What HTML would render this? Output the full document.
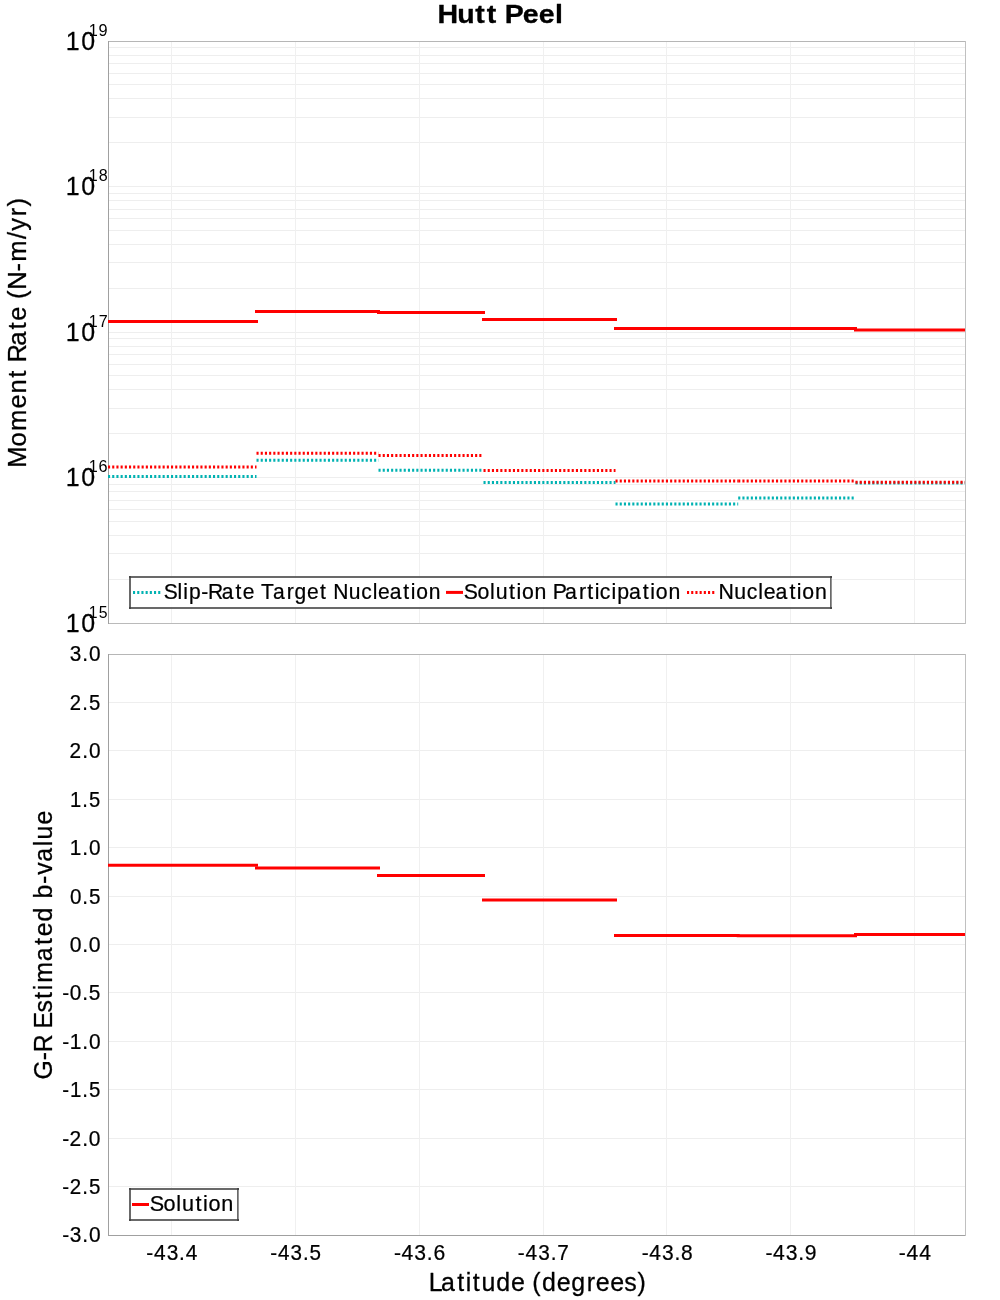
<!DOCTYPE html>
<html><head><meta charset="utf-8"><title>Hutt Peel</title>
<style>
html,body{margin:0;padding:0;background:#fff;}
body{width:1000px;height:1300px;overflow:hidden;font-family:"Liberation Sans", sans-serif;}
svg{display:block;will-change:transform;}
text{font-family:"Liberation Sans", sans-serif;}
</style></head><body>
<svg width="1000" height="1300" viewBox="0 0 1000 1300">
<rect x="0" y="0" width="1000" height="1300" fill="#fff"/>
<g shape-rendering="crispEdges">
<rect x="109" y="579" width="856" height="1" fill="#eeeeee"/>
<rect x="109" y="553" width="856" height="1" fill="#eeeeee"/>
<rect x="109" y="535" width="856" height="1" fill="#eeeeee"/>
<rect x="109" y="521" width="856" height="1" fill="#eeeeee"/>
<rect x="109" y="509" width="856" height="1" fill="#eeeeee"/>
<rect x="109" y="500" width="856" height="1" fill="#eeeeee"/>
<rect x="109" y="491" width="856" height="1" fill="#eeeeee"/>
<rect x="109" y="484" width="856" height="1" fill="#eeeeee"/>
<rect x="109" y="477" width="856" height="1" fill="#eeeeee"/>
<rect x="109" y="433" width="856" height="1" fill="#eeeeee"/>
<rect x="109" y="408" width="856" height="1" fill="#eeeeee"/>
<rect x="109" y="389" width="856" height="1" fill="#eeeeee"/>
<rect x="109" y="375" width="856" height="1" fill="#eeeeee"/>
<rect x="109" y="364" width="856" height="1" fill="#eeeeee"/>
<rect x="109" y="354" width="856" height="1" fill="#eeeeee"/>
<rect x="109" y="346" width="856" height="1" fill="#eeeeee"/>
<rect x="109" y="338" width="856" height="1" fill="#eeeeee"/>
<rect x="109" y="332" width="856" height="1" fill="#eeeeee"/>
<rect x="109" y="288" width="856" height="1" fill="#eeeeee"/>
<rect x="109" y="262" width="856" height="1" fill="#eeeeee"/>
<rect x="109" y="244" width="856" height="1" fill="#eeeeee"/>
<rect x="109" y="230" width="856" height="1" fill="#eeeeee"/>
<rect x="109" y="218" width="856" height="1" fill="#eeeeee"/>
<rect x="109" y="209" width="856" height="1" fill="#eeeeee"/>
<rect x="109" y="200" width="856" height="1" fill="#eeeeee"/>
<rect x="109" y="193" width="856" height="1" fill="#eeeeee"/>
<rect x="109" y="186" width="856" height="1" fill="#eeeeee"/>
<rect x="109" y="142" width="856" height="1" fill="#eeeeee"/>
<rect x="109" y="117" width="856" height="1" fill="#eeeeee"/>
<rect x="109" y="98" width="856" height="1" fill="#eeeeee"/>
<rect x="109" y="84" width="856" height="1" fill="#eeeeee"/>
<rect x="109" y="73" width="856" height="1" fill="#eeeeee"/>
<rect x="109" y="63" width="856" height="1" fill="#eeeeee"/>
<rect x="109" y="55" width="856" height="1" fill="#eeeeee"/>
<rect x="109" y="47" width="856" height="1" fill="#eeeeee"/>
<rect x="171" y="42" width="1" height="581" fill="#f0f0f0"/>
<rect x="295" y="42" width="1" height="581" fill="#f0f0f0"/>
<rect x="419" y="42" width="1" height="581" fill="#f0f0f0"/>
<rect x="543" y="42" width="1" height="581" fill="#f0f0f0"/>
<rect x="666" y="42" width="1" height="581" fill="#f0f0f0"/>
<rect x="790" y="42" width="1" height="581" fill="#f0f0f0"/>
<rect x="914" y="42" width="1" height="581" fill="#f0f0f0"/>
<rect x="109" y="702" width="856" height="1" fill="#eeeeee"/>
<rect x="109" y="750" width="856" height="1" fill="#eeeeee"/>
<rect x="109" y="799" width="856" height="1" fill="#eeeeee"/>
<rect x="109" y="847" width="856" height="1" fill="#eeeeee"/>
<rect x="109" y="896" width="856" height="1" fill="#eeeeee"/>
<rect x="109" y="944" width="856" height="1" fill="#eeeeee"/>
<rect x="109" y="992" width="856" height="1" fill="#eeeeee"/>
<rect x="109" y="1041" width="856" height="1" fill="#eeeeee"/>
<rect x="109" y="1089" width="856" height="1" fill="#eeeeee"/>
<rect x="109" y="1138" width="856" height="1" fill="#eeeeee"/>
<rect x="109" y="1186" width="856" height="1" fill="#eeeeee"/>
<rect x="171" y="655" width="1" height="580" fill="#f0f0f0"/>
<rect x="295" y="655" width="1" height="580" fill="#f0f0f0"/>
<rect x="419" y="655" width="1" height="580" fill="#f0f0f0"/>
<rect x="543" y="655" width="1" height="580" fill="#f0f0f0"/>
<rect x="666" y="655" width="1" height="580" fill="#f0f0f0"/>
<rect x="790" y="655" width="1" height="580" fill="#f0f0f0"/>
<rect x="914" y="655" width="1" height="580" fill="#f0f0f0"/>
</g>
<g shape-rendering="crispEdges">
<rect x="108" y="41" width="858" height="1" fill="#b6b6b6"/>
<rect x="108" y="623" width="858" height="1" fill="#bababa"/>
<rect x="108" y="41" width="1" height="583" fill="#a0a0a0"/>
<rect x="965" y="41" width="1" height="583" fill="#c0c0c0"/>
<rect x="108" y="654" width="858" height="1" fill="#b6b6b6"/>
<rect x="108" y="1235" width="858" height="1" fill="#a0a0a0"/>
<rect x="108" y="654" width="1" height="582" fill="#a0a0a0"/>
<rect x="965" y="654" width="1" height="582" fill="#c0c0c0"/>
</g>
<clipPath id="ct"><rect x="108" y="41" width="857" height="582"/></clipPath>
<clipPath id="cb"><rect x="108" y="654" width="857" height="581"/></clipPath>
<g clip-path="url(#ct)" fill="none" stroke-width="3">
<path d="M108 476.5H256.5" stroke="#00b2b2" stroke-dasharray="2.1 2.1"/>
<path d="M256.5 460.2H378.5" stroke="#00b2b2" stroke-dasharray="2.1 2.1"/>
<path d="M378.5 470.2H483.5" stroke="#00b2b2" stroke-dasharray="2.1 2.1"/>
<path d="M483.5 482.6H615.5" stroke="#00b2b2" stroke-dasharray="2.1 2.1"/>
<path d="M615.5 504H738.2" stroke="#00b2b2" stroke-dasharray="2.1 2.1"/>
<path d="M738.2 498H855.5" stroke="#00b2b2" stroke-dasharray="2.1 2.1"/>
<path d="M855.5 483H966" stroke="#00b2b2" stroke-dasharray="2.1 2.1"/>
<path d="M108 321.55H256.5" stroke="#ff0000" stroke-linecap="square"/>
<path d="M256.5 311.45H378.5" stroke="#ff0000" stroke-linecap="square"/>
<path d="M378.5 312.45H483.5" stroke="#ff0000" stroke-linecap="square"/>
<path d="M483.5 319.5H615.5" stroke="#ff0000" stroke-linecap="square"/>
<path d="M615.5 328.55H738.2" stroke="#ff0000" stroke-linecap="square"/>
<path d="M738.2 328.6H855.5" stroke="#ff0000" stroke-linecap="square"/>
<path d="M855.5 330H966" stroke="#ff0000" stroke-linecap="square"/>
<path d="M108 467H256.5" stroke="#ff0000" stroke-dasharray="2.1 2.1"/>
<path d="M256.5 453.3H378.5" stroke="#ff0000" stroke-dasharray="2.1 2.1"/>
<path d="M378.5 455.6H483.5" stroke="#ff0000" stroke-dasharray="2.1 2.1"/>
<path d="M483.5 470.6H615.5" stroke="#ff0000" stroke-dasharray="2.1 2.1"/>
<path d="M615.5 480.9H738.2" stroke="#ff0000" stroke-dasharray="2.1 2.1"/>
<path d="M738.2 480.9H855.5" stroke="#ff0000" stroke-dasharray="2.1 2.1"/>
<path d="M855.5 482.2H966" stroke="#ff0000" stroke-dasharray="2.1 2.1"/>
</g>
<g clip-path="url(#cb)" fill="none" stroke-width="3">
<path d="M108 865.2H256.5" stroke="#ff0000" stroke-linecap="square"/>
<path d="M256.5 867.9H378.5" stroke="#ff0000" stroke-linecap="square"/>
<path d="M378.5 875.5H483.5" stroke="#ff0000" stroke-linecap="square"/>
<path d="M483.5 899.9H615.5" stroke="#ff0000" stroke-linecap="square"/>
<path d="M615.5 935.6H738.2" stroke="#ff0000" stroke-linecap="square"/>
<path d="M738.2 935.75H855.5" stroke="#ff0000" stroke-linecap="square"/>
<path d="M855.5 934.6H966" stroke="#ff0000" stroke-linecap="square"/>
</g>
<rect x="129" y="576" width="703" height="33" fill="#fff" fill-opacity="0.85"/>
<g shape-rendering="crispEdges">
<rect x="131" y="576" width="699" height="2" fill="#000" fill-opacity="0.59"/>
<rect x="131" y="607" width="699" height="2" fill="#000" fill-opacity="0.59"/>
<rect x="129" y="578" width="2" height="29" fill="#000" fill-opacity="0.59"/>
<rect x="830" y="578" width="1" height="29" fill="#000" fill-opacity="0.59"/>
<rect x="831" y="578" width="1" height="29" fill="#000" fill-opacity="0.42"/>
<rect x="129" y="576" width="2" height="2" fill="#000" fill-opacity="0.72"/>
<rect x="129" y="607" width="2" height="2" fill="#000" fill-opacity="0.72"/>
<rect x="830" y="576" width="2" height="2" fill="#000" fill-opacity="0.72"/>
<rect x="830" y="607" width="2" height="2" fill="#000" fill-opacity="0.72"/>
</g>
<path d="M133 592.4H161" stroke="#00b2b2" stroke-width="3" stroke-dasharray="2.1 2.1" fill="none"/>
<text transform="translate(0,598.700) scale(1.0531,1.0645)" x="155.61 168.66 173.96 179.40 191.05 197.49 210.63 223.65 230.55 236.55 247.75 259.24 272.26 279.56 291.63 303.94 309.94 316.47 331.27 342.94 353.85 359.04 370.02 383.04 390.05 395.17 407.10" font-size="20" fill="#000" stroke="#000" stroke-width="0.22" stroke-linejoin="round">Slip-Rate Target Nucleation</text>
<path d="M446 592.4H463" stroke="#ff0000" stroke-width="3" fill="none"/>
<text transform="translate(0,598.700) scale(1.0639,1.0645)" x="435.90 448.76 460.60 465.87 478.43 485.43 490.54 502.45 508.45 519.44 531.12 544.13 551.96 558.96 563.83 574.73 580.16 591.24 604.26 611.25 616.36 628.28" font-size="20" fill="#000" stroke="#000" stroke-width="0.22" stroke-linejoin="round">Solution Participation</text>
<path d="M687 592.4H715" stroke="#ff0000" stroke-width="3" stroke-dasharray="2.1 2.1" fill="none"/>
<text transform="translate(0,598.700) scale(1.0629,1.0618)" x="676.03 690.85 702.54 713.46 718.67 729.66 742.70 749.72 754.85 766.80" font-size="20" fill="#000" stroke="#000" stroke-width="0.22" stroke-linejoin="round">Nucleation</text>
<rect x="129" y="1188" width="110" height="33" fill="#fff" fill-opacity="0.85"/>
<g shape-rendering="crispEdges">
<rect x="131" y="1188" width="106" height="2" fill="#000" fill-opacity="0.59"/>
<rect x="131" y="1219" width="106" height="2" fill="#000" fill-opacity="0.59"/>
<rect x="129" y="1190" width="2" height="29" fill="#000" fill-opacity="0.59"/>
<rect x="237" y="1190" width="1" height="29" fill="#000" fill-opacity="0.59"/>
<rect x="238" y="1190" width="1" height="29" fill="#000" fill-opacity="0.42"/>
<rect x="129" y="1188" width="2" height="2" fill="#000" fill-opacity="0.72"/>
<rect x="129" y="1219" width="2" height="2" fill="#000" fill-opacity="0.72"/>
<rect x="237" y="1188" width="2" height="2" fill="#000" fill-opacity="0.72"/>
<rect x="237" y="1219" width="2" height="2" fill="#000" fill-opacity="0.72"/>
</g>
<path d="M132 1204.5H149" stroke="#ff0000" stroke-width="3" fill="none"/>
<text transform="translate(0,1211.000) scale(1.0814,1.0645)" x="138.50 151.28 163.05 168.27 180.76 187.72 192.77 204.61" font-size="20" fill="#000" stroke="#000" stroke-width="0.22" stroke-linejoin="round">Solution</text>
<text transform="translate(0,23.000) scale(1.1892,1.0618)" x="367.83 384.57 399.69 409.21 416.41 424.43 439.57 453.08 466.76" font-size="24" font-weight="bold" fill="#000" stroke="#000" stroke-width="0.288" stroke-linejoin="round">Hutt Peel</text>
<text transform="translate(0,1291.000) scale(1.0388,1.0618)" x="412.76 424.65 440.10 448.40 455.20 463.42 477.64 491.91 499.11 512.44 521.78 536.05 549.96 564.94 573.49 587.36 600.97 613.68" font-size="24" fill="#000" stroke="#000" stroke-width="0.264" stroke-linejoin="round">Latitude (degrees)</text>
<text transform="translate(26.100,0) rotate(-90) scale(1.0666,1.0618)" x="-438.47 -418.61 -404.08 -382.92 -368.89 -354.15 -346.95 -339.76 -324.26 -308.86 -300.80 -293.60 -280.35 -271.65 -254.50 -245.50 -224.16 -216.41 -202.78 -193.56" font-size="24" fill="#000" stroke="#000" stroke-width="0.264" stroke-linejoin="round">Moment Rate (N-m/yr)</text>
<text transform="translate(52.150,0) rotate(-90) scale(1.0354,1.0645)" x="-1042.54 -1024.05 -1016.20 -1009.00 -993.35 -977.77 -964.79 -956.31 -949.17 -928.42 -912.69 -904.31 -890.07 -882.87 -867.81 -853.74 -844.76 -832.38 -817.23 -810.80 -796.28" font-size="24" fill="#000" stroke="#000" stroke-width="0.264" stroke-linejoin="round">G-R Estimated b-value</text>
<text transform="translate(0,1260.000) scale(1.0458,1.0618)" x="139.95 147.23 159.41 171.29 177.66" font-size="20" fill="#000" stroke="#000" stroke-width="0.22" stroke-linejoin="round">-43.4</text>
<text transform="translate(0,1260.000) scale(1.0312,1.0618)" x="262.05 269.48 281.82 293.84 300.26" font-size="20" fill="#000" stroke="#000" stroke-width="0.22" stroke-linejoin="round">-43.5</text>
<text transform="translate(0,1260.000) scale(1.0553,1.0618)" x="373.33 380.54 392.60 404.40 410.69" font-size="20" fill="#000" stroke="#000" stroke-width="0.22" stroke-linejoin="round">-43.6</text>
<text transform="translate(0,1260.000) scale(1.0415,1.0618)" x="497.23 504.56 516.78 528.70 535.06" font-size="20" fill="#000" stroke="#000" stroke-width="0.22" stroke-linejoin="round">-43.7</text>
<text transform="translate(0,1260.000) scale(1.0495,1.0618)" x="611.41 618.66 630.79 642.65 648.98" font-size="20" fill="#000" stroke="#000" stroke-width="0.22" stroke-linejoin="round">-43.8</text>
<text transform="translate(0,1260.000) scale(1.0553,1.0618)" x="725.35 732.56 744.62 756.42 762.61" font-size="20" fill="#000" stroke="#000" stroke-width="0.22" stroke-linejoin="round">-43.9</text>
<text transform="translate(0,1260.000) scale(1.0562,1.0618)" x="851.05 858.24 870.29" font-size="20" fill="#000" stroke="#000" stroke-width="0.22" stroke-linejoin="round">-44</text>
<text transform="translate(0,661.000) scale(1.0388,1.0645)" x="67.27 79.22 85.63" font-size="20" fill="#000" stroke="#000" stroke-width="0.22" stroke-linejoin="round">3.0</text>
<text transform="translate(0,710.000) scale(1.0128,1.0645)" x="68.87 81.32 87.92" font-size="20" fill="#000" stroke="#000" stroke-width="0.22" stroke-linejoin="round">2.5</text>
<text transform="translate(0,758.000) scale(1.0420,1.0645)" x="66.78 78.97 85.35" font-size="20" fill="#000" stroke="#000" stroke-width="0.22" stroke-linejoin="round">2.0</text>
<text transform="translate(0,807.000) scale(1.0081,1.0645)" x="69.41 81.72 88.35" font-size="20" fill="#000" stroke="#000" stroke-width="0.22" stroke-linejoin="round">1.5</text>
<text transform="translate(0,855.000) scale(1.0379,1.0645)" x="67.25 79.29 85.70" font-size="20" fill="#000" stroke="#000" stroke-width="0.22" stroke-linejoin="round">1.0</text>
<text transform="translate(0,904.000) scale(1.0316,1.0645)" x="67.75 79.79 86.21" font-size="20" fill="#000" stroke="#000" stroke-width="0.22" stroke-linejoin="round">0.5</text>
<text transform="translate(0,952.000) scale(1.0601,1.0645)" x="65.78 77.57 83.79" font-size="20" fill="#000" stroke="#000" stroke-width="0.22" stroke-linejoin="round">0.0</text>
<text transform="translate(0,1000.000) scale(1.0407,1.0645)" x="59.81 67.11 79.06 85.40" font-size="20" fill="#000" stroke="#000" stroke-width="0.22" stroke-linejoin="round">-0.5</text>
<text transform="translate(0,1049.000) scale(1.0461,1.0645)" x="59.48 66.68 78.64 84.98" font-size="20" fill="#000" stroke="#000" stroke-width="0.22" stroke-linejoin="round">-1.0</text>
<text transform="translate(0,1097.000) scale(1.0221,1.0645)" x="60.96 68.38 80.55 87.05" font-size="20" fill="#000" stroke="#000" stroke-width="0.22" stroke-linejoin="round">-1.5</text>
<text transform="translate(0,1146.000) scale(1.0492,1.0645)" x="59.29 66.28 78.40 84.71" font-size="20" fill="#000" stroke="#000" stroke-width="0.22" stroke-linejoin="round">-2.0</text>
<text transform="translate(0,1194.000) scale(1.0256,1.0645)" x="60.73 67.93 80.26 86.73" font-size="20" fill="#000" stroke="#000" stroke-width="0.22" stroke-linejoin="round">-2.5</text>
<text transform="translate(0,1242.000) scale(1.0465,1.0645)" x="59.45 66.73 78.61 84.94" font-size="20" fill="#000" stroke="#000" stroke-width="0.22" stroke-linejoin="round">-3.0</text>
<text transform="translate(0,50.000) scale(1.0404,1.0645)" x="63.18 78.03" font-size="24" fill="#000" stroke="#000" stroke-width="0.24" stroke-linejoin="round">10</text>
<text transform="translate(0,36.000) scale(1.0199,1.0618)" x="86.91 96.62" font-size="16" fill="#000">19</text>
<text transform="translate(0,195.000) scale(1.0404,1.0645)" x="63.18 78.03" font-size="24" fill="#000" stroke="#000" stroke-width="0.24" stroke-linejoin="round">10</text>
<text transform="translate(0,181.000) scale(1.0064,1.0618)" x="88.13 98.02" font-size="16" fill="#000">18</text>
<text transform="translate(0,341.000) scale(1.0404,1.0645)" x="63.18 78.03" font-size="24" fill="#000" stroke="#000" stroke-width="0.24" stroke-linejoin="round">10</text>
<text transform="translate(0,327.000) scale(1.0067,1.0618)" x="88.15 98.16" font-size="16" fill="#000">17</text>
<text transform="translate(0,486.000) scale(1.0404,1.0645)" x="63.18 78.03" font-size="24" fill="#000" stroke="#000" stroke-width="0.24" stroke-linejoin="round">10</text>
<text transform="translate(0,472.000) scale(1.0129,1.0618)" x="87.51 97.30" font-size="16" fill="#000">16</text>
<text transform="translate(0,632.000) scale(1.0404,1.0645)" x="63.18 78.03" font-size="24" fill="#000" stroke="#000" stroke-width="0.24" stroke-linejoin="round">10</text>
<text transform="translate(0,618.000) scale(0.9872,1.0618)" x="89.98 100.16" font-size="16" fill="#000">15</text>
</svg>
</body></html>
